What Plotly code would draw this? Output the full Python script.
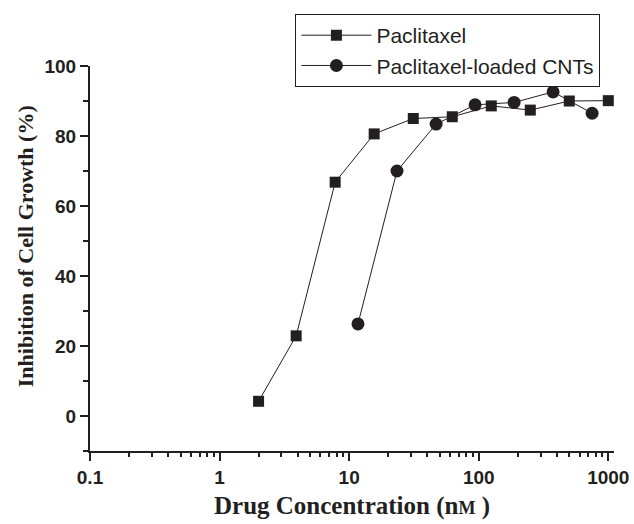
import plotly.graph_objects as go

# Drug concentration (nM) and inhibition of cell growth (%)
paclitaxel_conc = [2, 3.9, 7.8, 15.6, 31.25, 62.5, 125, 250, 500, 1000]
paclitaxel_inhib = [4.2, 22.9, 66.8, 80.6, 85.0, 85.5, 88.6, 87.4, 90.0, 90.1]

cnt_conc = [11.7, 23.4, 46.9, 93.75, 187.5, 375, 750]
cnt_inhib = [26.3, 70.0, 83.4, 88.9, 89.6, 92.6, 86.5]

x_tick_vals = [0.1, 1, 10, 100, 1000]
x_tick_text = ["0.1", "1", "10", "100", "1000"]
y_tick_vals = [0, 20, 40, 60, 80, 100]

INK = "#231f20"

fig = go.Figure()
fig.add_trace(go.Scatter(
    x=paclitaxel_conc, y=paclitaxel_inhib, mode="lines+markers",
    name="Paclitaxel",
    line=dict(color=INK, width=1),
    marker=dict(symbol="square", size=11, color=INK),
))
fig.add_trace(go.Scatter(
    x=cnt_conc, y=cnt_inhib, mode="lines+markers",
    name="Paclitaxel-loaded CNTs",
    line=dict(color=INK, width=1),
    marker=dict(symbol="circle", size=13, color=INK),
))

tick_font = dict(family="Liberation Sans, Arial", size=19, color=INK, weight="bold")
title_font = dict(family="Liberation Serif, Times New Roman", size=25, color=INK, weight="bold")
ytitle_font = dict(family="Liberation Serif, Times New Roman", size=22, color=INK, weight="bold")

fig.update_xaxes(
    type="log", range=[-1, 3.044],
    tickvals=x_tick_vals, ticktext=x_tick_text,
    showline=True, linecolor=INK, linewidth=2,
    ticks="outside", ticklen=8, tickwidth=2, tickcolor=INK,
    minor=dict(ticks="outside", ticklen=4, tickwidth=2, tickcolor=INK, dtick="D1", showgrid=False),
    showgrid=False, zeroline=False,
    tickfont=tick_font,
    title=dict(text="Drug Concentration (n<span style='font-size:18px'>M</span> )",
               font=title_font, standoff=10),
)
fig.update_yaxes(
    range=[-10, 100],
    tickvals=y_tick_vals,
    showline=True, linecolor=INK, linewidth=2,
    ticks="outside", ticklen=8, tickwidth=2, tickcolor=INK,
    minor=dict(ticks="outside", ticklen=5, tickwidth=2, tickcolor=INK, dtick=10, showgrid=False),
    showgrid=False, zeroline=False,
    tickfont=tick_font,
)

# vertical axis title, placed slightly above the plot's centre line
fig.add_annotation(
    text="Inhibition of Cell Growth (%)", textangle=-90,
    xref="paper", yref="paper", x=-0.124, y=0.532,
    xanchor="center", yanchor="middle", showarrow=False,
    font=ytitle_font,
)

fig.update_layout(
    width=634, height=524,
    margin=dict(l=90, r=20, t=66, b=73, autoexpand=False),
    paper_bgcolor="white", plot_bgcolor="white",
    showlegend=True,
    legend=dict(
        x=0.392, y=1.135, xanchor="left", yanchor="top",
        bgcolor="white", bordercolor=INK, borderwidth=1,
        font=dict(family="Liberation Sans, Arial", size=21, color=INK),
        itemwidth=70, tracegroupgap=0,
    ),
)

fig.write_html("out.html")
